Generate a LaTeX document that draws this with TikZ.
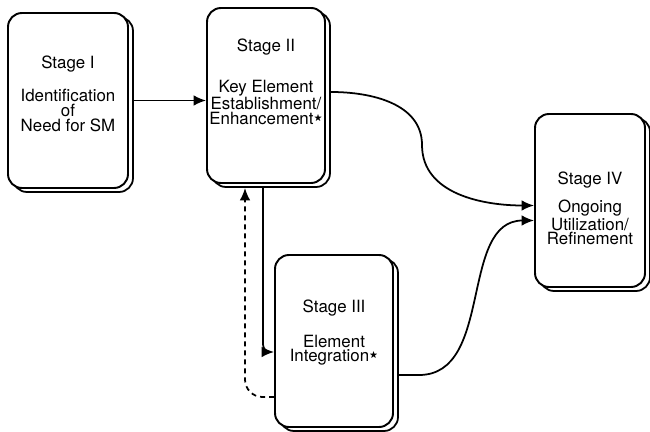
\documentclass[tikz,border=0pt]{standalone}
\usepackage{amssymb}
\usepackage{fontspec}
\setmainfont{TeX Gyre Heros}
\usetikzlibrary{positioning,calc,shadows,arrows.meta}

\newcommand{\revstar}{\raisebox{0.5ex}{$\scriptscriptstyle\bigstar$}}

\tikzset{
  stagebox/.style={draw, line width=1.1pt, rounded corners=0.28cm, fill=white,
    copy shadow={shadow xshift=0.1cm, shadow yshift=-0.08cm, opacity=1,
      fill=white, draw=black, line width=1pt}},
  stagetext/.style={align=center, inner sep=0pt,
    font=\fontsize{9.6}{8.4}\selectfont},
  flow/.style={line width=1pt, -{Latex[length=7pt,width=6pt]}}
}

\begin{document}
\begin{tikzpicture}
    \useasboundingbox (0,0) rectangle (13,-8.64);

    % Stages
    \node[stagebox, minimum width=2.4cm, minimum height=3.5cm] (stageI) at (1.36,-2.01) {};
    \node[stagebox, minimum width=2.36cm, minimum height=3.5cm] (stageII) at (5.32,-1.91) {};
    \node[stagebox, minimum width=2.36cm, minimum height=3.44cm] (stageIII) at (6.68,-6.82) {};
    \node[stagebox, minimum width=2.2cm, minimum height=3.46cm] (stageIV) at (11.8,-4.01) {};

    % Texts
    \node[stagetext] (textI) at ([yshift=0.14cm]stageI.center)
      {Stage I\\[0.31cm]Identification\\of\\Need for SM};
    \node[stagetext] (textII) at ([yshift=0.27cm]stageII.center)
      {Stage II\\[0.45cm]Key Element\\Establishment/\\Enhancement\revstar};
    \node[stagetext] (textIII) at ([yshift=0.16cm]stageIII.center)
      {Stage III\\[0.33cm]Element\\Integration\revstar};
    \node[stagetext] (textIV) at ([yshift=-0.16cm]stageIV.center)
      {Stage IV\\[0.2cm]Ongoing\\Utilization/\\Refinement};

    % Connectors
    \draw[flow] ([xshift=0.1cm]stageI.east) -- (stageI.east -| stageII.west);
    \draw[flow] ([xshift=0.1cm,yshift=0.07cm]stageII.east) to[out=0,in=90] (8.44,-2.9)
      to[out=-90,in=180] ([yshift=-0.1cm]stageIV.west);
    \draw[flow] ([xshift=0.1cm,yshift=-0.68cm]stageIII.east) -- ++(0.4,0)
      to[out=0,in=180] ([yshift=-0.4cm]stageIV.west);
    \draw[flow, rounded corners=0.15cm] ([xshift=-0.06cm,yshift=-0.08cm]stageII.south)
      |- ([yshift=-0.22cm]stageIII.west);

    % Feedback
    \draw[flow, dash pattern=on 0.1cm off 0.08cm, rounded corners=0.35cm]
      ([yshift=-1.12cm]stageIII.west) -| ([xshift=-0.42cm,yshift=-0.08cm]stageII.south);
\end{tikzpicture}
\end{document}
